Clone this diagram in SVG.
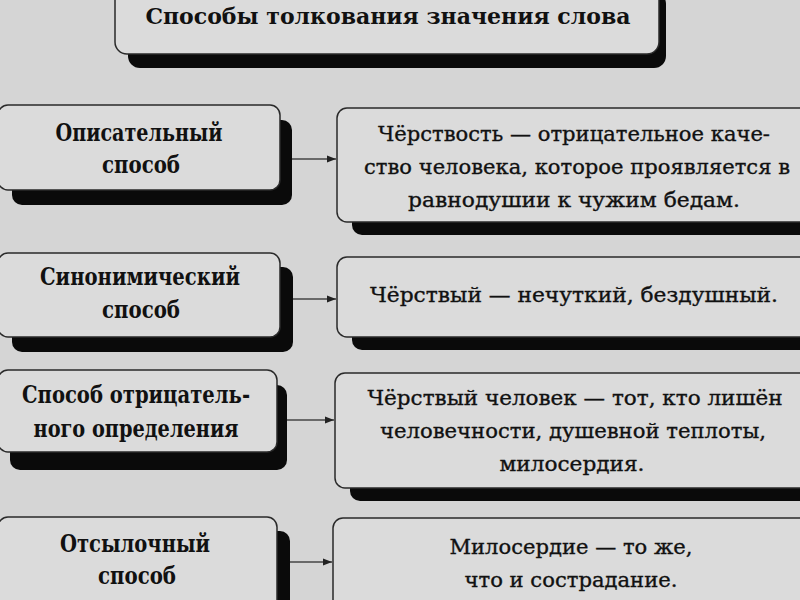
<svg xmlns="http://www.w3.org/2000/svg" width="800" height="600" viewBox="0 0 800 600">
<defs>
<style>
.bg{fill:#d5d5d5}
.box{fill:#dbdbdb;stroke:#2a2a2a;stroke-width:1.5}
.sh{fill:#0a0a0a}
.lbl{font-family:"DejaVu Serif","Liberation Serif",serif;font-weight:bold;font-size:25px;fill:#111;text-anchor:middle}
.def{font-family:"DejaVu Serif","Liberation Serif",serif;font-size:21px;fill:#111;stroke:#111;stroke-width:0.35;text-anchor:middle}
.ttl{font-family:"DejaVu Serif","Liberation Serif",serif;font-weight:bold;font-size:23px;fill:#111;text-anchor:middle}
.con{stroke:#444;stroke-width:1.6;fill:none}
</style>
<marker id="arr" viewBox="0 0 10 10" refX="10" refY="5" markerWidth="10" markerHeight="9" markerUnits="userSpaceOnUse" orient="auto">
<path d="M0,1 L10,5 L0,9 z" fill="#222"/>
</marker>
</defs>
<rect class="bg" x="0" y="0" width="800" height="600"/>

<g id="title">
<rect class="sh" x="128" y="-8" width="538" height="76" rx="12"/>
<rect class="box" x="115" y="-15" width="544" height="69" rx="12"/>
<text class="ttl" x="388" y="24" textLength="485" lengthAdjust="spacingAndGlyphs">Способы толкования значения слова</text>
</g>

<g id="left1">
<rect class="sh" x="12" y="120" width="280" height="85" rx="10"/>
<rect class="box" x="-2" y="105" width="282" height="85" rx="10"/>
<text class="lbl" x="139" y="141" textLength="167" lengthAdjust="spacingAndGlyphs">Описательный</text>
<text class="lbl" x="141" y="173" textLength="78" lengthAdjust="spacingAndGlyphs">способ</text>
</g>
<g id="right1">
<rect class="sh" x="352" y="122" width="480" height="113" rx="10"/>
<rect class="box" x="337" y="108" width="480" height="114" rx="10"/>
<text class="def" x="574" y="141" textLength="392" lengthAdjust="spacingAndGlyphs">Чёрствость — отрицательное каче-</text>
<text class="def" x="577" y="174" textLength="426" lengthAdjust="spacingAndGlyphs">ство человека, которое проявляется в</text>
<text class="def" x="574" y="207" textLength="332" lengthAdjust="spacingAndGlyphs">равнодушии к чужим бедам.</text>
</g>

<g id="left2">
<rect class="sh" x="12" y="267" width="281" height="85" rx="10"/>
<rect class="box" x="-2" y="253" width="282" height="84" rx="10"/>
<text class="lbl" x="140" y="285" textLength="200" lengthAdjust="spacingAndGlyphs">Синонимический</text>
<text class="lbl" x="141" y="318" textLength="78" lengthAdjust="spacingAndGlyphs">способ</text>
</g>
<g id="right2">
<rect class="sh" x="352" y="270" width="480" height="80" rx="10"/>
<rect class="box" x="337" y="257" width="480" height="80" rx="10"/>
<text class="def" x="574" y="302" textLength="408" lengthAdjust="spacingAndGlyphs">Чёрствый — нечуткий, бездушный.</text>
</g>

<g id="left3">
<rect class="sh" x="10" y="385" width="277" height="85" rx="10"/>
<rect class="box" x="-2" y="370" width="279" height="82" rx="10"/>
<text class="lbl" x="136" y="403" textLength="228" lengthAdjust="spacingAndGlyphs">Способ отрицатель-</text>
<text class="lbl" x="136" y="437" textLength="205" lengthAdjust="spacingAndGlyphs">ного определения</text>
</g>
<g id="right3">
<rect class="sh" x="350" y="388" width="480" height="113" rx="10"/>
<rect class="box" x="335" y="373" width="480" height="115" rx="10"/>
<text class="def" x="575" y="405" textLength="415" lengthAdjust="spacingAndGlyphs">Чёрствый человек — тот, кто лишён</text>
<text class="def" x="573" y="438" textLength="386" lengthAdjust="spacingAndGlyphs">человечности, душевной теплоты,</text>
<text class="def" x="572" y="471" textLength="145" lengthAdjust="spacingAndGlyphs">милосердия.</text>
</g>

<g id="left4">
<rect class="sh" x="10" y="531" width="280" height="90" rx="10"/>
<rect class="box" x="-2" y="517" width="279" height="100" rx="10"/>
<text class="lbl" x="135" y="552" textLength="150" lengthAdjust="spacingAndGlyphs">Отсылочный</text>
<text class="lbl" x="137" y="584" textLength="78" lengthAdjust="spacingAndGlyphs">способ</text>
</g>
<g id="right4">
<rect class="box" x="333" y="518" width="480" height="100" rx="10"/>
<text class="def" x="571" y="554" textLength="243" lengthAdjust="spacingAndGlyphs">Милосердие — то же,</text>
<text class="def" x="571" y="587" textLength="213" lengthAdjust="spacingAndGlyphs">что и сострадание.</text>
</g>

<g id="connectors">
<line class="con" x1="292" y1="159" x2="336" y2="159" marker-end="url(#arr)"/>
<line class="con" x1="293" y1="299" x2="336" y2="299" marker-end="url(#arr)"/>
<line class="con" x1="287" y1="420" x2="334" y2="420" marker-end="url(#arr)"/>
<line class="con" x1="290" y1="562" x2="332" y2="562" marker-end="url(#arr)"/>
</g>
</svg>
